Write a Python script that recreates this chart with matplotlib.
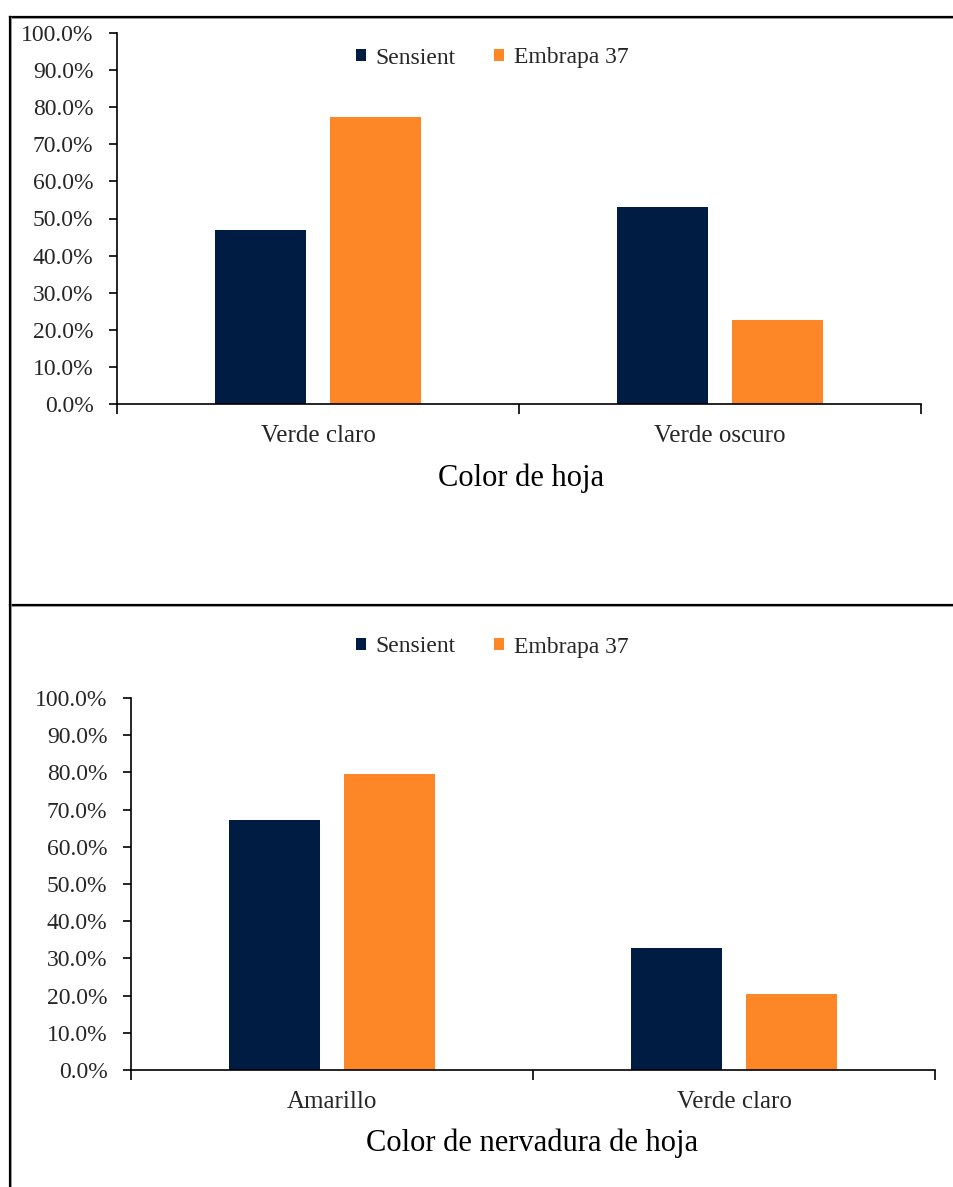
import matplotlib.pyplot as plt
from matplotlib.lines import Line2D
from matplotlib.patches import Patch
from matplotlib.ticker import PercentFormatter, FixedLocator


# Excel usa Times New Roman; Liberation Serif tiene las mismas métricas.
plt.rcParams["font.family"] = ["Liberation Serif", "DejaVu Serif"]

SERIES = ["Sensient", "Embrapa 37"]
COLORS = ["#001c43", "#fd8726"]

HOJA_CATS = ["Verde claro", "Verde oscuro"]
HOJA_SENSIENT = [47.0, 53.0]
HOJA_EMBRAPA = [77.4, 22.6]

NERV_CATS = ["Amarillo", "Verde claro"]
NERV_SENSIENT = [67.2, 32.8]
NERV_EMBRAPA = [79.6, 20.4]

W, H = 954, 1187
TEXT = "#262626"


def px_axes(fig, left, right, top, bottom):
    """Crea ejes a partir de coordenadas en píxeles de la imagen."""
    return fig.add_axes([left / W, 1 - bottom / H, (right - left) / W, (bottom - top) / H])


def bar_panel(ax, cats, sensient, embrapa):
    x = list(range(len(cats)))
    width = 0.226
    ax.bar([i - 0.143 for i in x], sensient, width, color=COLORS[0])
    ax.bar([i + 0.143 for i in x], embrapa, width, color=COLORS[1])

    ax.set_xlim(-0.5, len(cats) - 0.5)
    ax.set_ylim(0, 100)
    ax.yaxis.set_major_locator(FixedLocator([i * 10 for i in range(11)]))
    ax.yaxis.set_major_formatter(PercentFormatter(decimals=1))

    ax.xaxis.set_major_locator(FixedLocator([i - 0.5 for i in range(len(cats) + 1)]))
    ax.xaxis.set_major_formatter(lambda v, p: "")
    ax.set_xticks(x, minor=True)
    ax.set_xticklabels(cats, minor=True)

    for side in ("top", "right"):
        ax.spines[side].set_visible(False)
    for side in ("left", "bottom"):
        ax.spines[side].set_linewidth(1.2)
        ax.spines[side].set_color("black")

    ax.tick_params(axis="y", which="major", direction="out", length=6, width=1.2,
                   pad=11, labelsize=17, labelcolor=TEXT)
    ax.tick_params(axis="x", which="major", direction="out", length=7, width=1.2)
    ax.tick_params(axis="x", which="minor", length=0, pad=15, labelsize=18,
                   labelcolor=TEXT)


fig = plt.figure(figsize=(W / 100, H / 100), dpi=100)

ax1 = px_axes(fig, 117, 921, 33, 404)
bar_panel(ax1, HOJA_CATS, HOJA_SENSIENT, HOJA_EMBRAPA)
fig.text(521 / W, 1 - 478 / H, "Color de hoja", ha="center", va="center",
         fontsize=22, color="black")

ax2 = px_axes(fig, 131, 935, 698, 1070)
bar_panel(ax2, NERV_CATS, NERV_SENSIENT, NERV_EMBRAPA)
fig.text(532 / W, 1 - 1143 / H, "Color de nervadura de hoja", ha="center",
         va="center", fontsize=22, color="black")

handles = [Patch(facecolor=c, label=s) for c, s in zip(COLORS, SERIES)]
for y in (58, 647):
    fig.legend(handles=handles, loc="center", bbox_to_anchor=(492 / W, 1 - y / H),
               ncol=2, frameon=False, fontsize=17, handlelength=0.45,
               handleheight=0.45, handletextpad=0.4, columnspacing=1.6,
               labelcolor=TEXT)

# Marcos de los dos gráficos (con una leve sombra gris, como en el original).
for xs, ys in [((10, W), (17, 17)), ((10, W), (605, 605)), ((10, 10), (17, H))]:
    fx = [v / W for v in xs]
    fy = [1 - v / H for v in ys]
    fig.add_artist(Line2D([f + 0.0012 for f in fx], [f - 0.0012 for f in fy],
                          color="#9a9a9a", linewidth=1.2))
    fig.add_artist(Line2D(fx, fy, color="black", linewidth=1.6))

fig.savefig("out.png", dpi=100)
